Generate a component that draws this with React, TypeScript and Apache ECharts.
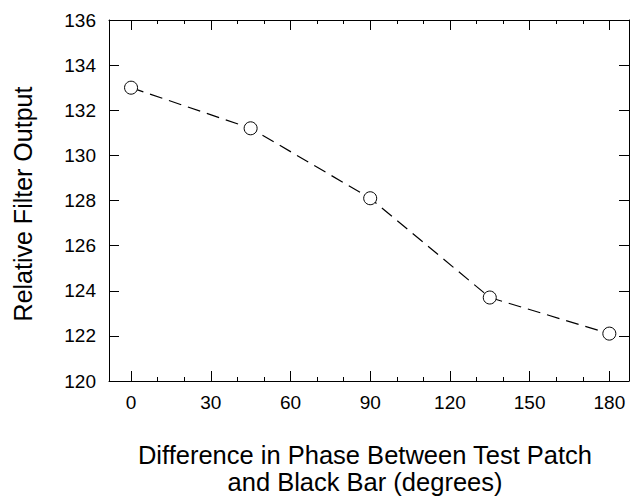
import React, { useEffect, useRef } from "react";
import * as echarts from "echarts";

const phaseDeg = [0, 45, 90, 135, 180];
const filterOutput = [133.0, 131.2, 128.1, 123.7, 122.1];
const xMajorTicks = [0, 30, 60, 90, 120, 150, 180];
const xMinorTicks = [10, 20, 40, 50, 70, 80, 100, 110, 130, 140, 160, 170];
const xTitleLines = ["Difference in Phase Between Test Patch", "and Black Bar (degrees)"];
const yTitle = "Relative Filter Output";

const FONT = "Liberation Sans, Arial, Helvetica, sans-serif";
const X_MIN = -8.3;
const X_MAX = 187.4;

export default function App() {
  const ref = useRef<HTMLDivElement>(null);
  useEffect(() => {
    if (!ref.current) return;
    const chart = echarts.init(ref.current, null, { renderer: "svg" });
    const black = "#000";
    const baseX = (position: string, ticks: number[], len: number, showLine: boolean, showLabel: boolean) => ({
      type: "value",
      min: X_MIN,
      max: X_MAX,
      position,
      axisLine: { show: showLine, onZero: false, lineStyle: { color: black, width: 1 } },
      axisTick: { show: true, inside: true, length: len, customValues: ticks, lineStyle: { color: black, width: 1 } },
      axisLabel: showLabel
        ? { show: true, customValues: ticks, fontSize: 19, color: black, fontFamily: FONT, margin: 12 }
        : { show: false },
      splitLine: { show: false },
    });
    const baseY = (position: string, showLabel: boolean) => ({
      type: "value",
      min: 120,
      max: 136,
      interval: 2,
      position,
      axisLine: { show: true, onZero: false, lineStyle: { color: black, width: 1 } },
      axisTick: { show: true, inside: true, length: 10, lineStyle: { color: black, width: 1 } },
      axisLabel: showLabel
        ? { show: true, fontSize: 19, color: black, fontFamily: FONT, margin: 13 }
        : { show: false },
      splitLine: { show: false },
    });
    chart.setOption({
      animation: false,
      backgroundColor: "#fff",
      grid: { left: 109, top: 20, right: 1, bottom: 116, containLabel: false },
      xAxis: [
        baseX("bottom", xMajorTicks, 10, true, true),
        baseX("bottom", xMinorTicks, 4, false, false),
        baseX("top", xMajorTicks, 10, true, false),
        baseX("top", xMinorTicks, 4, false, false),
      ],
      yAxis: [baseY("left", true), baseY("right", false)],
      series: [
        {
          type: "line",
          xAxisIndex: 0,
          yAxisIndex: 0,
          data: phaseDeg.map((x, i) => [x, filterOutput[i]]),
          symbol: "circle",
          symbolSize: 13,
          itemStyle: { color: "#fff", borderColor: black, borderWidth: 1 },
          lineStyle: { color: black, width: 1.2, type: [13, 7] },
          z: 3,
        },
      ],
      graphic: [
        {
          type: "text",
          x: 365,
          y: 455,
          style: {
            text: xTitleLines[0],
            fontSize: 25.5,
            fontFamily: FONT,
            fill: black,
            align: "center",
            verticalAlign: "middle",
          },
        },
        {
          type: "text",
          x: 365,
          y: 482,
          style: {
            text: xTitleLines[1],
            fontSize: 25.5,
            fontFamily: FONT,
            fill: black,
            align: "center",
            verticalAlign: "middle",
          },
        },
        {
          type: "text",
          x: 23,
          y: 204,
          rotation: Math.PI / 2,
          style: {
            text: yTitle,
            fontSize: 25,
            fontFamily: FONT,
            fill: black,
            align: "center",
            verticalAlign: "middle",
          },
        },
      ],
    });
    return () => chart.dispose();
  }, []);
  return (
    <div
      ref={ref}
      style={{ position: "absolute", left: 0, top: 0, width: 630, height: 497, background: "#fff" }}
    />
  );
}
